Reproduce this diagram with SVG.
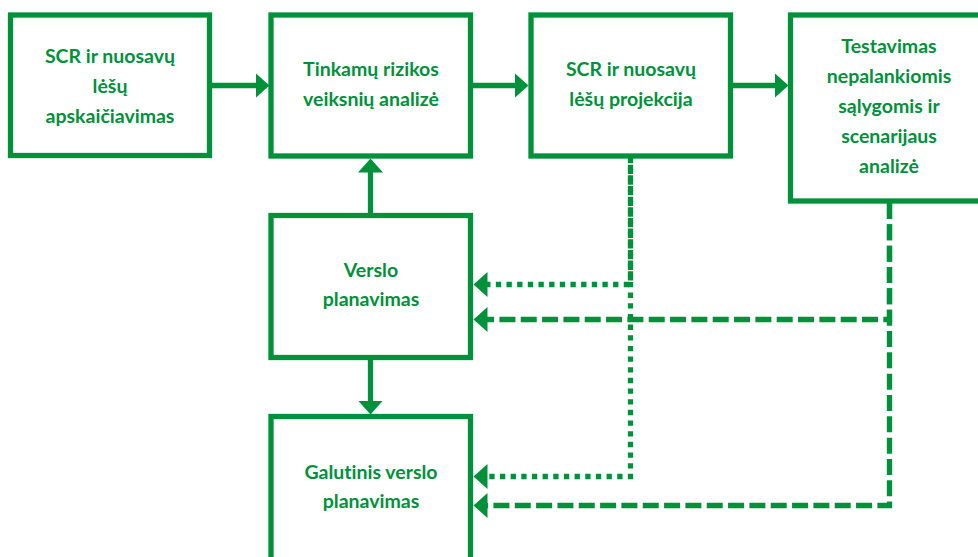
<svg xmlns="http://www.w3.org/2000/svg" width="978" height="557" viewBox="0 0 978 557">
<style>
.box{fill:#ffffff;stroke:#00913a;stroke-width:5.3}
.t{font-family:Lato,"Open Sans","Liberation Sans",sans-serif;font-weight:bold;font-size:19.5px;fill:#00913a;text-anchor:middle;font-variant-ligatures:none}
.c{fill:none;stroke:#00913a;stroke-width:5.3}
.dot{stroke-dasharray:5.33 5.33}
.dash{stroke-dasharray:16 5.33}
</style>
<defs>
<marker id="ah" markerUnits="userSpaceOnUse" markerWidth="16" markerHeight="27" refX="0.5" refY="13" orient="auto">
<path d="M0,0.5 L14,13 L0,25.5 Z" fill="#00913a"/>
</marker>
</defs>
<rect width="978" height="557" fill="#ffffff"/>
<g id="n1"><rect class="box" x="10.5" y="15" width="199" height="140.5"/>
<text class="t" x="110" y="63">SCR ir nuosavų</text><text class="t" x="110" y="93">lėšų</text><text class="t" x="110" y="123">apskaičiavimas</text></g>
<g id="n2"><rect class="box" x="271" y="15" width="199.5" height="141"/>
<text class="t" x="371" y="76">Tinkamų rizikos</text><text class="t" x="371" y="106">veiksnių analizė</text></g>
<g id="n3"><rect class="box" x="531" y="15" width="199.5" height="141"/>
<text class="t" x="631" y="76">SCR ir nuosavų</text><text class="t" x="631" y="106">lėšų projekcija</text></g>
<g id="n4"><rect class="box" x="790.5" y="15" width="200" height="186"/>
<text class="t" x="889" y="53">Testavimas</text><text class="t" x="889" y="83">nepalankiomis</text><text class="t" x="889" y="113">sąlygomis ir</text><text class="t" x="889" y="143">scenarijaus</text><text class="t" x="889" y="173">analizė</text></g>
<g id="n5"><rect class="box" x="271" y="215.5" width="199.5" height="142"/>
<text class="t" x="371" y="277">Verslo</text><text class="t" x="371" y="306">planavimas</text></g>
<g id="n6"><rect class="box" x="271" y="416.5" width="199.5" height="150"/>
<text class="t" x="371" y="479">Galutinis verslo</text><text class="t" x="371" y="508">planavimas</text></g>
<g id="connectors">
<path class="c" d="M212,85.5 H256" marker-end="url(#ah)"/>
<path class="c" d="M473,85.5 H515" marker-end="url(#ah)"/>
<path class="c" d="M733,85.5 H775" marker-end="url(#ah)"/>
<path class="c" d="M370.5,213 V172" marker-end="url(#ah)"/>
<path class="c" d="M370.5,360 V401" marker-end="url(#ah)"/>
<path class="c dot" d="M630.5,158 V284.5 H487" marker-end="url(#ah)"/>
<path class="c dot" style="stroke-dashoffset:4" d="M630.5,158 V476.5 H487" marker-end="url(#ah)"/>
<path class="c dash" d="M889.5,203 V319.5 H487" marker-end="url(#ah)"/>
<path class="c dash" d="M889.5,203 V505.5 H487" marker-end="url(#ah)"/>
</g>
</svg>
